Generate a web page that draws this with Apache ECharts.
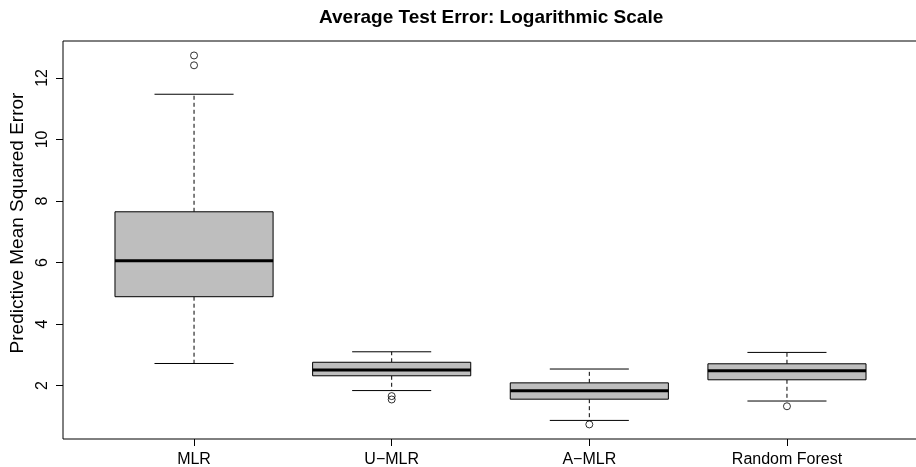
<!DOCTYPE html>
<html>
<head>
<meta charset="utf-8">
<script src="https://cdn.jsdelivr.net/npm/echarts@6/dist/echarts.min.js"></script>
<style>
html,body{margin:0;padding:0;background:#fff;}
#c{width:916px;height:467px;}
</style>
</head>
<body>
<div id="c"></div>
<script>
var categories = ['MLR', 'U\u2212MLR', 'A\u2212MLR', 'Random Forest'];
// [lower whisker, Q1, median, Q3, upper whisker]
var boxMLR = [2.72, 4.89, 6.06, 7.65, 11.47];
var boxUMLR = [1.84, 2.32, 2.51, 2.76, 3.10];
var boxAMLR = [0.87, 1.56, 1.83, 2.09, 2.54];
var boxRF = [1.50, 2.19, 2.48, 2.71, 3.08];
var outMLR = [12.41, 12.73];
var outUMLR = [1.66, 1.55];
var outAMLR = [0.74];
var outRF = [1.33];
var yTicks = [2, 4, 6, 8, 10, 12];

var boxes = [boxMLR, boxUMLR, boxAMLR, boxRF];
var outs = [outMLR, outUMLR, outAMLR, outRF];
var boxData = boxes.map(function (b, i) { return [i + 1].concat(b); });
var outData = [];
outs.forEach(function (o, i) { o.forEach(function (v) { outData.push([i + 1, v]); }); });

var font = 'Liberation Sans, Arial, Helvetica, sans-serif';
var chart = echarts.init(document.getElementById('c'), null, {renderer: 'canvas'});
chart.setOption({
  animation: false,
  backgroundColor: '#fff',
  title: {
    text: 'Average Test Error: Logarithmic Scale',
    left: 314, top: 3,
    textStyle: {fontFamily: font, fontSize: 19, fontWeight: 'bold', color: '#000'}
  },
  grid: {left: 63, top: 41, width: 855, height: 398, show: true,
    outerBoundsMode: 'none', containLabel: false,
    borderColor: '#000', borderWidth: 1, backgroundColor: 'transparent'},
  xAxis: {
    type: 'value', min: 0.337, max: 4.663,
    axisLine: {show: false},
    splitLine: {show: false},
    axisTick: {show: true, length: 7, customValues: [1, 2, 3, 4], lineStyle: {color: '#000'}},
    axisLabel: {customValues: [1, 2, 3, 4], margin: 13, color: '#000',
      fontFamily: font, fontSize: 16,
      formatter: function (v) { return categories[Math.round(v) - 1]; }}
  },
  yAxis: {
    type: 'value', min: 0.266, max: 13.2,
    name: 'Predictive Mean Squared Error', nameLocation: 'middle', nameGap: 35,
    nameTextStyle: {fontFamily: font, fontSize: 19, color: '#000', padding: [0, 0, 0, 34]},
    axisLine: {show: false},
    splitLine: {show: false},
    axisTick: {show: true, length: 7, customValues: yTicks, lineStyle: {color: '#000'}},
    axisLabel: {customValues: yTicks, rotate: 90, margin: 12, color: '#000',
      fontFamily: font, fontSize: 16}
  },
  series: [{
    type: 'custom',
    data: boxData,
    encode: {x: 0, y: [1, 2, 3, 4, 5]},
    renderItem: function (params, api) {
      var x = api.value(0);
      var lo = api.value(1), q1 = api.value(2), md = api.value(3), q3 = api.value(4), hi = api.value(5);
      function P(dx, v) { return api.coord([x + dx, v]); }
      var dash = {stroke: '#000', lineWidth: 1, lineDash: [4, 3]};
      var solid = {stroke: '#000', lineWidth: 1};
      var a = P(-0.4, q3), b = P(0.4, q1);
      return {type: 'group', children: [
        {type: 'line', shape: {x1: P(0, q3)[0], y1: P(0, q3)[1], x2: P(0, hi)[0], y2: P(0, hi)[1]}, style: dash},
        {type: 'line', shape: {x1: P(0, q1)[0], y1: P(0, q1)[1], x2: P(0, lo)[0], y2: P(0, lo)[1]}, style: dash},
        {type: 'line', shape: {x1: P(-0.2, hi)[0], y1: P(-0.2, hi)[1], x2: P(0.2, hi)[0], y2: P(0.2, hi)[1]}, style: solid},
        {type: 'line', shape: {x1: P(-0.2, lo)[0], y1: P(-0.2, lo)[1], x2: P(0.2, lo)[0], y2: P(0.2, lo)[1]}, style: solid},
        {type: 'rect', shape: {x: a[0], y: a[1], width: b[0] - a[0], height: b[1] - a[1]},
          style: {fill: '#bebebe', stroke: '#000', lineWidth: 1}},
        {type: 'line', shape: {x1: P(-0.4, md)[0], y1: P(-0.4, md)[1], x2: P(0.4, md)[0], y2: P(0.4, md)[1]},
          style: {stroke: '#000', lineWidth: 3}}
      ]};
    }
  }, {
    type: 'scatter',
    data: outData,
    symbol: 'circle', symbolSize: 7,
    itemStyle: {color: 'rgba(0,0,0,0)', borderColor: '#000', borderWidth: 1}
  }]
});
</script>
</body>
</html>
